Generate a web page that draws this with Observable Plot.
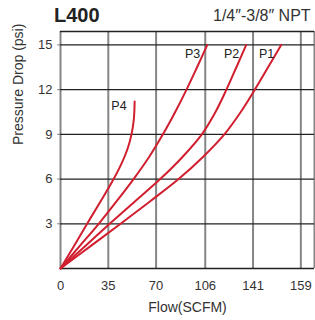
<!DOCTYPE html>
<html>
<head>
<meta charset="utf-8">
<script src="https://cdn.jsdelivr.net/npm/d3@7"></script>
<script src="https://cdn.jsdelivr.net/npm/@observablehq/plot@0.6"></script>
<style>
  html, body { margin: 0; padding: 0; background: #fff; }
  #wrap { position: relative; width: 315px; height: 320px; overflow: hidden; font-family: "Liberation Sans", Arial, sans-serif; }
  #title { position: absolute; left: 54px; top: 3px; font-size: 20px; font-weight: bold; color: #222; line-height: 24px; }
  #subtitle { position: absolute; left: 213px; top: 6px; font-size: 16px; color: #333; line-height: 20px; white-space: nowrap; }
  svg { display: block; }
</style>
</head>
<body>
<div id="wrap">
  <div id="chart"></div>
  <div id="title">L400</div>
  <div id="subtitle">1/4″-3/8″ NPT</div>
</div>
<script>
// ---- data ----
const psiLevels = [0, 1.5, 3, 4.5, 6, 7.5, 9, 10.5, 12, 13.5, 15];
const flowP1 = [0, 22, 44, 65.5, 86.5, 104.5, 120, 132, 142.3, 152, 161.6];
const flowP2 = [0, 18, 36, 54.5, 73, 89.5, 103.5, 113.5, 121.5, 128.8, 136];
const flowP3 = [0, 14, 28, 41, 53.5, 65, 75, 84, 92.3, 100, 107.5];
const psiP4  = [0, 1.5, 3, 4.5, 5.8, 7, 8, 9, 10, 11.2];
const flowP4 = [0, 9.8, 19.5, 29.3, 37.7, 44.5, 49, 52, 53.7, 54.3];

const seriesNames = ["P1", "P2", "P3", "P4"];
const xTickValues = [0, 35, 70, 106, 141, 176];
const xTickLabels = ["0", "35", "70", "106", "141", "159"];
const yTickValues = [3, 6, 9, 12, 15];
const xMax = 186;
const yMax = 15.9;

// ---- build table ----
const rows = [];
[flowP1, flowP2, flowP3].forEach((arr, i) => {
  arr.forEach((f, j) => rows.push({series: seriesNames[i], flow: f, psi: psiLevels[j]}));
});
flowP4.forEach((f, j) => rows.push({series: "P4", flow: f, psi: psiP4[j]}));

const ends = seriesNames.map(s => {
  const r = rows.filter(d => d.series === s);
  return r[r.length - 1];
});
const endsTop = ends.filter(d => d.series !== "P4");
const endsP4 = ends.filter(d => d.series === "P4");

const red = "#d11f2f";
const font = "Liberation Sans, Arial, sans-serif";

const chart = Plot.plot({
  width: 315,
  height: 320,
  marginLeft: 60,
  marginRight: 1,
  marginTop: 31,
  marginBottom: 52,
  style: {fontFamily: font, fontSize: "13px", color: "#333", background: "#fff"},
  x: {domain: [0, xMax], axis: null},
  y: {domain: [0, yMax], axis: null},
  marks: [
    Plot.ruleX(xTickValues, {stroke: "#858585", strokeWidth: 2}),
    Plot.ruleX([xMax], {stroke: "#858585", strokeWidth: 2}),
    Plot.ruleY(yTickValues, {stroke: "#222", strokeWidth: 1.3}),
    Plot.ruleY([0], {stroke: "#222", strokeWidth: 1.5}),
    Plot.ruleY([yMax], {stroke: "#222", strokeWidth: 1.5}),
    Plot.axisX(xTickValues, {tickSize: 0, tickPadding: 12, tickFormat: (d, i) => xTickLabels[i], fontSize: 13, fill: "#333", label: null}),
    Plot.axisY(yTickValues, {tickSize: 3, tickPadding: 5, stroke: "#858585", fontSize: 13, fill: "#333", label: null}),
    Plot.line(rows, {x: "flow", y: "psi", z: "series", stroke: red, strokeWidth: 2, curve: "catmull-rom"}),
    Plot.text(endsTop, {x: "flow", y: "psi", text: "series", textAnchor: "end", dx: -7, dy: 9, fontSize: 12.5, fill: "#222"}),
    Plot.text(endsP4, {x: "flow", y: "psi", text: "series", textAnchor: "end", dx: -8, dy: 4, fontSize: 12.5, fill: "#222"}),
    Plot.text(["Flow(SCFM)"], {frameAnchor: "bottom", dy: 43, fontSize: 14, fill: "#333"}),
    Plot.text(["Pressure Drop (psi)"], {frameAnchor: "left", rotate: -90, dx: -42, dy: -5, fontSize: 14, fill: "#333"})
  ]
});
document.getElementById("chart").appendChild(chart);
</script>
</body>
</html>
